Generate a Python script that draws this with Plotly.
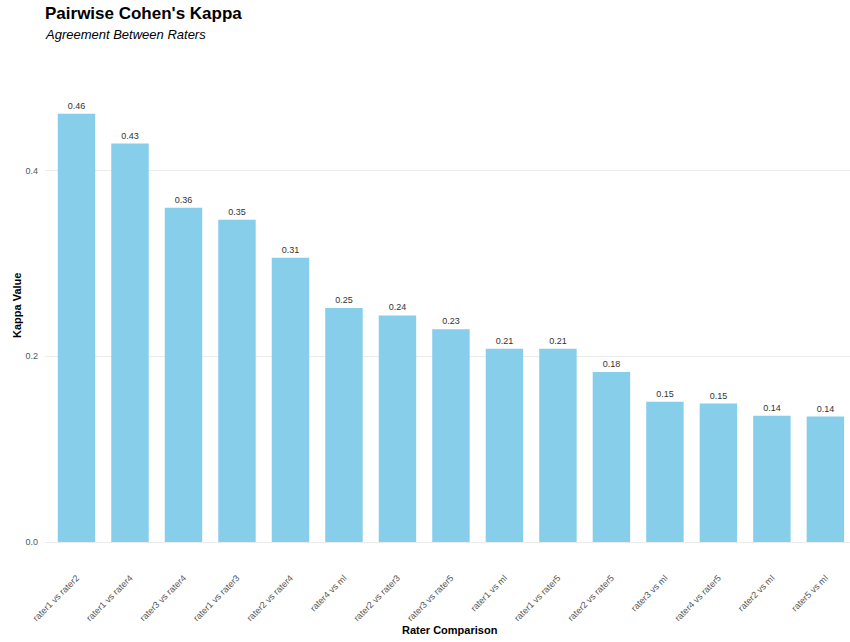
import plotly.graph_objects as go

comparisons = [
    "rater1 vs rater2", "rater1 vs rater4", "rater3 vs rater4", "rater1 vs rater3",
    "rater2 vs rater4", "rater4 vs ml", "rater2 vs rater3", "rater3 vs rater5",
    "rater1 vs ml", "rater1 vs rater5", "rater2 vs rater5", "rater3 vs ml",
    "rater4 vs rater5", "rater2 vs ml", "rater5 vs ml",
]
kappa = [0.461, 0.429, 0.360, 0.347, 0.306, 0.252, 0.244, 0.229,
         0.208, 0.208, 0.183, 0.151, 0.149, 0.136, 0.135]
y_ticks = [0.0, 0.2, 0.4]
y_tick_text = ["0.0", "0.2", "0.4"]

FONT = "Liberation Sans, Arial, sans-serif"
W, H = 850, 642
ML, MR, MT, MB = 45, 0, 92, 79
PH = H - MT - MB
PW = W - ML - MR


def py(px):
    return 1 - (px - MT) / PH


def pxx(px):
    return (px - ML) / PW


fig = go.Figure(go.Bar(
    x=list(range(len(comparisons))),
    y=kappa,
    width=0.7,
    marker=dict(color="#87CEEB", line=dict(width=0)),
    texttemplate="%{y:.2f}",
    textposition="outside",
    textfont=dict(family=FONT, size=9, color="#333333"),
    cliponaxis=False,
))

annotations = [
    dict(text="<b>Pairwise Cohen's Kappa</b>", x=pxx(43), y=py(13), xref="paper", yref="paper",
         xanchor="left", yanchor="middle", showarrow=False,
         font=dict(family=FONT, size=17, color="black")),
    dict(text="<i>Agreement Between Raters</i>", x=pxx(43), y=py(34), xref="paper", yref="paper",
         xanchor="left", yanchor="middle", showarrow=False,
         font=dict(family=FONT, size=13, color="black")),
    dict(text="<b>Rater Comparison</b>", x=pxx(450), y=py(630), xref="paper", yref="paper",
         xanchor="center", yanchor="middle", showarrow=False,
         font=dict(family=FONT, size=11, color="black")),
    dict(text="<b>Kappa Value</b>", x=pxx(17), y=py(306), xref="paper", yref="paper",
         xanchor="center", yanchor="middle", showarrow=False, textangle=-90,
         font=dict(family=FONT, size=11, color="black")),
]

fig.update_layout(
    width=W, height=H,
    paper_bgcolor="white", plot_bgcolor="white",
    margin=dict(l=ML, r=MR, t=MT, b=MB, autoexpand=False),
    font=dict(family=FONT),
    showlegend=False,
    annotations=annotations,
)

fig.update_xaxes(
    tickmode="array",
    tickvals=list(range(len(comparisons))),
    ticktext=comparisons,
    tickangle=-45,
    tickfont=dict(family=FONT, size=9, color="#555555"),
    range=[-0.589, 14.46],
    showgrid=False, zeroline=False, showline=False, ticks="",
    ticklabelstandoff=7,
    automargin=False,
)
fig.update_yaxes(
    tickmode="array",
    tickvals=y_ticks,
    ticktext=y_tick_text,
    tickfont=dict(family=FONT, size=9, color="#555555"),
    range=[-0.0226, 0.4845],
    showgrid=True, gridcolor="#EBEBEB", gridwidth=1,
    zeroline=False, showline=False, ticks="",
    ticklabelstandoff=6,
    automargin=False,
)

fig.write_html("out.html", config={"displayModeBar": False},
               post_script="document.body.style.margin='0';")
